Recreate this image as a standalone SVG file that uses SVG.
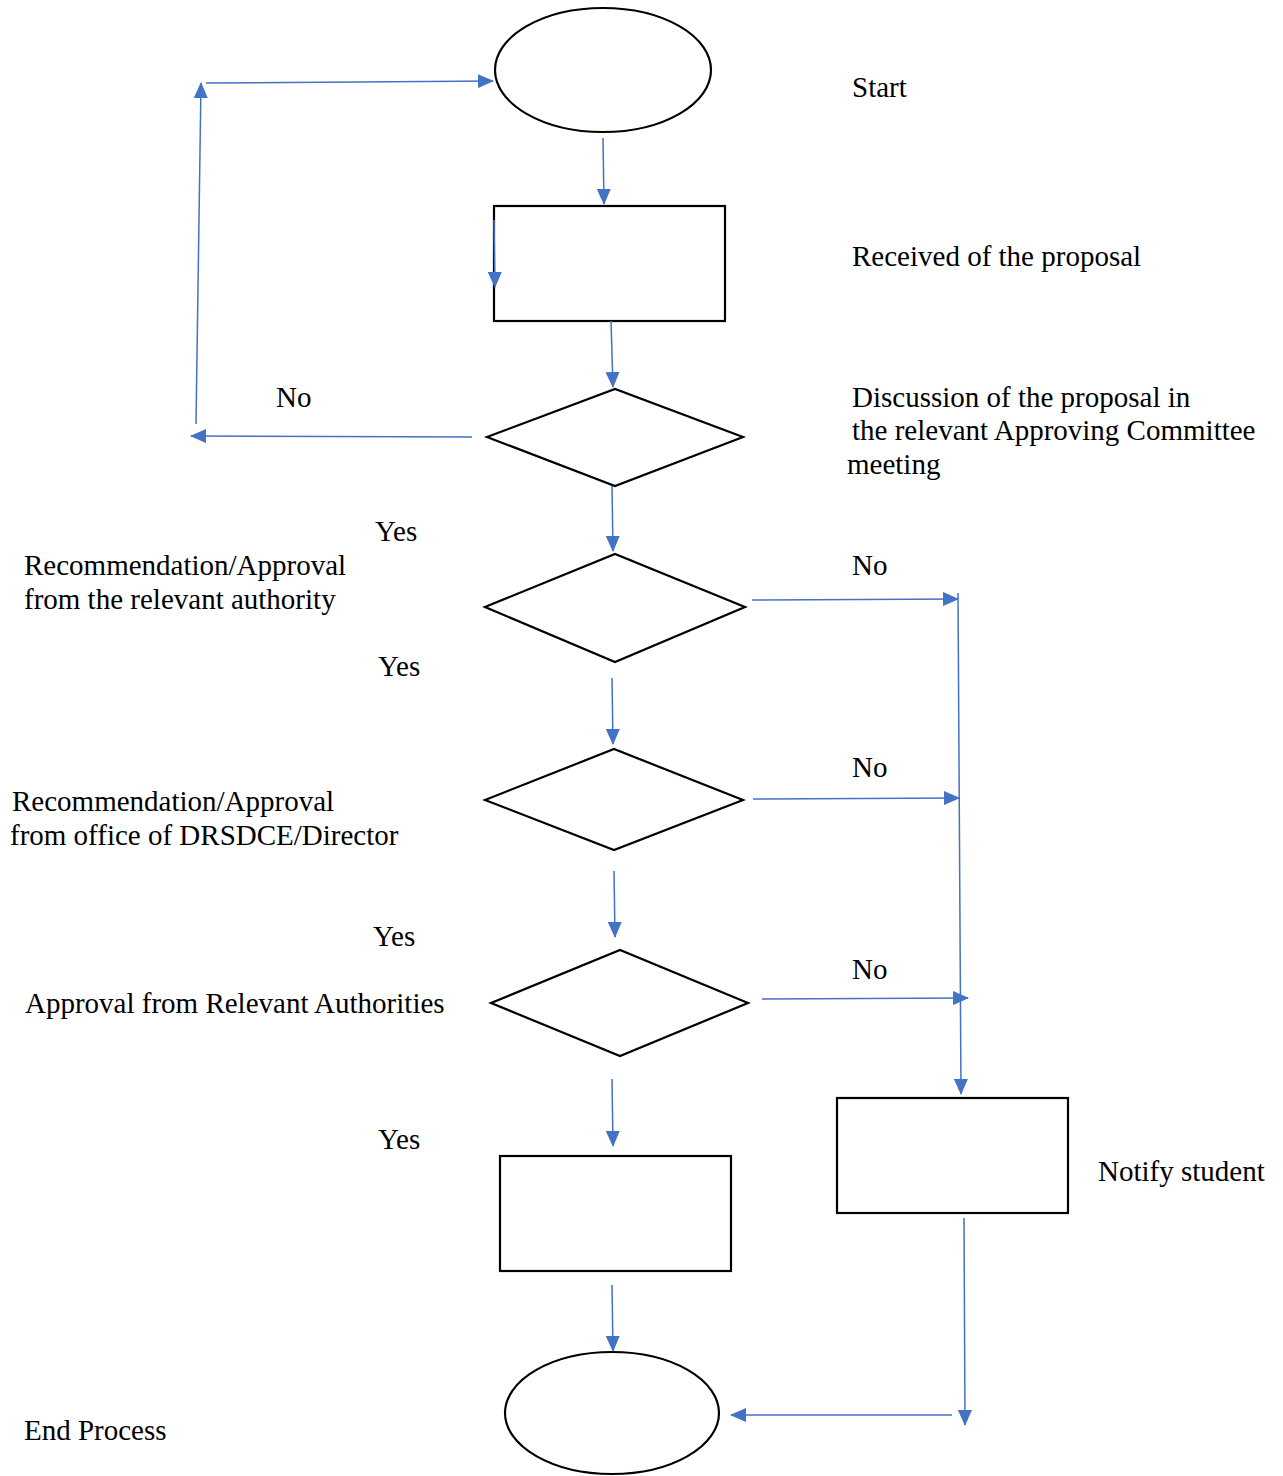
<svg xmlns="http://www.w3.org/2000/svg" width="1283" height="1476" viewBox="0 0 1283 1476">
  <style>
    .shape { fill: #ffffff; stroke: #000000; stroke-width: 2.2; }
    .conn { fill: none; stroke: #4472C4; stroke-width: 1.5; }
    .label { font-family: "Liberation Serif", "Times New Roman", serif; font-size: 29px; fill: #000000; }
  </style>
  <defs>
    <marker id="arrow" viewBox="0 0 16 14" refX="15" refY="7" markerWidth="16" markerHeight="14" markerUnits="userSpaceOnUse" orient="auto">
      <path d="M0,0 L16,7 L0,14 Z" fill="#4472C4"/>
    </marker>
  </defs>
  <rect width="1283" height="1476" fill="#ffffff"/>

  <!-- nodes -->
  <g id="start">
    <ellipse class="shape" cx="603" cy="70" rx="108" ry="62"/>
  </g>
  <g id="receive">
    <rect class="shape" x="494" y="206" width="231" height="115"/>
  </g>
  <g id="discussion">
    <polygon class="shape" points="487,437 615,389 743,437 615,486"/>
  </g>
  <g id="authority">
    <polygon class="shape" points="485,607 615,554 745,607 615,662"/>
  </g>
  <g id="director">
    <polygon class="shape" points="485,800 614,749 743,800 614,850"/>
  </g>
  <g id="approval">
    <polygon class="shape" points="491,1003 620,950 748,1003 620,1056"/>
  </g>
  <g id="accepted">
    <rect class="shape" x="500" y="1156" width="231" height="115"/>
  </g>
  <g id="notify">
    <rect class="shape" x="837" y="1098" width="231" height="115"/>
  </g>
  <g id="end">
    <ellipse class="shape" cx="612" cy="1413" rx="107" ry="61"/>
  </g>

  <!-- connectors -->
  <g id="connectors">
    <line class="conn" x1="603" y1="138" x2="604" y2="204" marker-end="url(#arrow)"/>
    <line class="conn" x1="494" y1="220" x2="495" y2="287" marker-end="url(#arrow)"/>
    <line class="conn" x1="611" y1="321" x2="613" y2="387" marker-end="url(#arrow)"/>
    <line class="conn" x1="472" y1="437" x2="191" y2="436" marker-end="url(#arrow)"/>
    <line class="conn" x1="196" y1="424" x2="201" y2="83" marker-end="url(#arrow)"/>
    <line class="conn" x1="206" y1="83" x2="493" y2="81" marker-end="url(#arrow)"/>
    <line class="conn" x1="612" y1="486" x2="613" y2="551" marker-end="url(#arrow)"/>
    <line class="conn" x1="752" y1="600" x2="958" y2="599" marker-end="url(#arrow)"/>
    <line class="conn" x1="958" y1="593" x2="961" y2="1094" marker-end="url(#arrow)"/>
    <line class="conn" x1="612" y1="678" x2="613" y2="744" marker-end="url(#arrow)"/>
    <line class="conn" x1="753" y1="799" x2="959" y2="798" marker-end="url(#arrow)"/>
    <line class="conn" x1="614" y1="871" x2="615" y2="937" marker-end="url(#arrow)"/>
    <line class="conn" x1="762" y1="999" x2="968" y2="998" marker-end="url(#arrow)"/>
    <line class="conn" x1="612" y1="1079" x2="613" y2="1146" marker-end="url(#arrow)"/>
    <line class="conn" x1="612" y1="1285" x2="613" y2="1351" marker-end="url(#arrow)"/>
    <line class="conn" x1="964" y1="1218" x2="965" y2="1425" marker-end="url(#arrow)"/>
    <line class="conn" x1="952" y1="1415" x2="731" y2="1415" marker-end="url(#arrow)"/>
  </g>

  <!-- labels -->
  <g id="labels">
    <text class="label" x="852" y="97">Start</text>
    <text class="label" x="852" y="266">Received of the proposal</text>
    <text class="label" x="852" y="407">Discussion of the proposal in</text>
    <text class="label" x="852" y="440">the relevant Approving Committee</text>
    <text class="label" x="847" y="474">meeting</text>
    <text class="label" x="276" y="407">No</text>
    <text class="label" x="375" y="541">Yes</text>
    <text class="label" x="24" y="575">Recommendation/Approval</text>
    <text class="label" x="24" y="609">from the relevant authority</text>
    <text class="label" x="852" y="575">No</text>
    <text class="label" x="378" y="676">Yes</text>
    <text class="label" x="852" y="777">No</text>
    <text class="label" x="12" y="811">Recommendation/Approval</text>
    <text class="label" x="10" y="845">from office of DRSDCE/Director</text>
    <text class="label" x="373" y="946">Yes</text>
    <text class="label" x="852" y="979">No</text>
    <text class="label" x="25" y="1013">Approval from Relevant Authorities</text>
    <text class="label" x="378" y="1149">Yes</text>
    <text class="label" x="1098" y="1181">Notify student</text>
    <text class="label" x="24" y="1440">End Process</text>
  </g>
</svg>
